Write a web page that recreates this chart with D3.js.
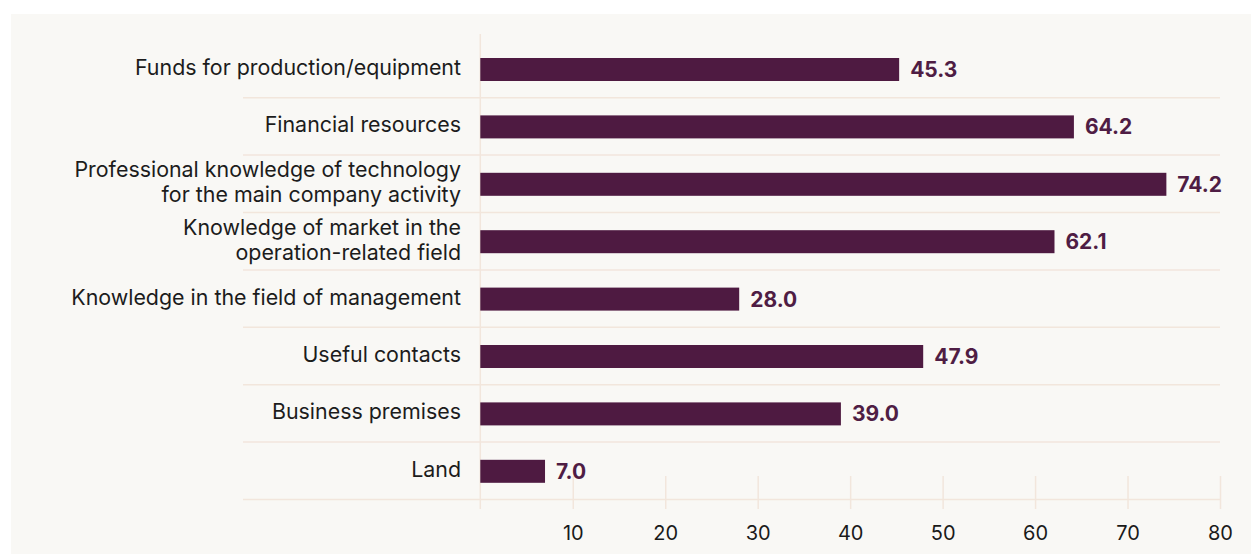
<!DOCTYPE html>
<html><head><meta charset="utf-8">
<script src="https://cdn.jsdelivr.net/npm/d3@7"></script>
<style>body{margin:0;background:#fff;}svg{display:block;}</style>
</head><body>
<svg id="c" width="1251" height="554"></svg>
<script>
const categories = ["Funds for production/equipment","Financial resources","Professional knowledge of technology|for the main company activity","Knowledge of market in the|operation-related field","Knowledge in the field of management","Useful contacts","Business premises","Land"];
const values = [45.3,64.2,74.2,62.1,28.0,47.9,39.0,7.0];
const tickValues = [10,20,30,40,50,60,70,80];

const svg = d3.select("#c");
svg.append("rect").attr("x",11).attr("y",14).attr("width",1240).attr("height",540).attr("fill","#f9f8f5");
const x = d3.scaleLinear().domain([0,80]).range([480.3,1220]);
const grid="#f2e6dc";
const yb = d3.scaleBand().domain(categories).range([40.3,499.5]);
// separators
svg.append("g").selectAll("line").data(categories).join("line")
 .attr("x1",243).attr("x2",1220).attr("y1",d=>yb(d)+yb.bandwidth()).attr("y2",d=>yb(d)+yb.bandwidth())
 .attr("stroke",grid).attr("stroke-width",1.5);
// zero line
svg.append("line").attr("x1",x(0)).attr("x2",x(0)).attr("y1",34).attr("y2",509).attr("stroke",grid).attr("stroke-width",1.5);
// x axis
const ax = d3.axisBottom(x).tickValues(tickValues).tickSize(33).tickPadding(0).tickSizeOuter(0);
const g = svg.append("g").attr("transform","translate(0,476)").call(ax);
g.select(".domain").remove();
g.selectAll(".tick line").attr("stroke",grid).attr("stroke-width",1.5);
g.selectAll(".tick text").attr("y",64).attr("dy",0).attr("fill","#1a1a1a").attr("font-family","Inter").attr("font-size",20);
// bars
svg.append("g").selectAll("rect").data(values).join("rect")
 .attr("x",x(0)).attr("y",(d,i)=>yb(categories[i])+yb.bandwidth()/2-11)
 .attr("width",d=>x(d)-x(0)).attr("height",23).attr("fill","#4e1a41");
// value labels
svg.append("g").selectAll("text").data(values).join("text")
 .attr("x",d=>x(d)+11).attr("y",(d,i)=>yb(categories[i])+yb.bandwidth()/2+8)
 .attr("font-family","Inter").attr("font-weight",700).attr("font-size",21).attr("fill","#4f1d44")
 .text(d=>d.toFixed(1));
// category labels
const cl = svg.append("g").selectAll("text").data(categories).join("text")
 .attr("text-anchor","end").attr("font-family","Inter").attr("font-size",21.4).attr("fill","#1c1c1c")
 .attr("transform",d=>`translate(461,${yb(d)+yb.bandwidth()/2})`);
cl.each(function(d){
  const lines=d.split("|"); const t=d3.select(this); const lh=25;
  lines.forEach((l,i)=>{
    t.append("tspan").attr("x",0).attr("y",(i-(lines.length-1)/2)*lh+6).text(l);
  });
});
</script>
</body></html>
